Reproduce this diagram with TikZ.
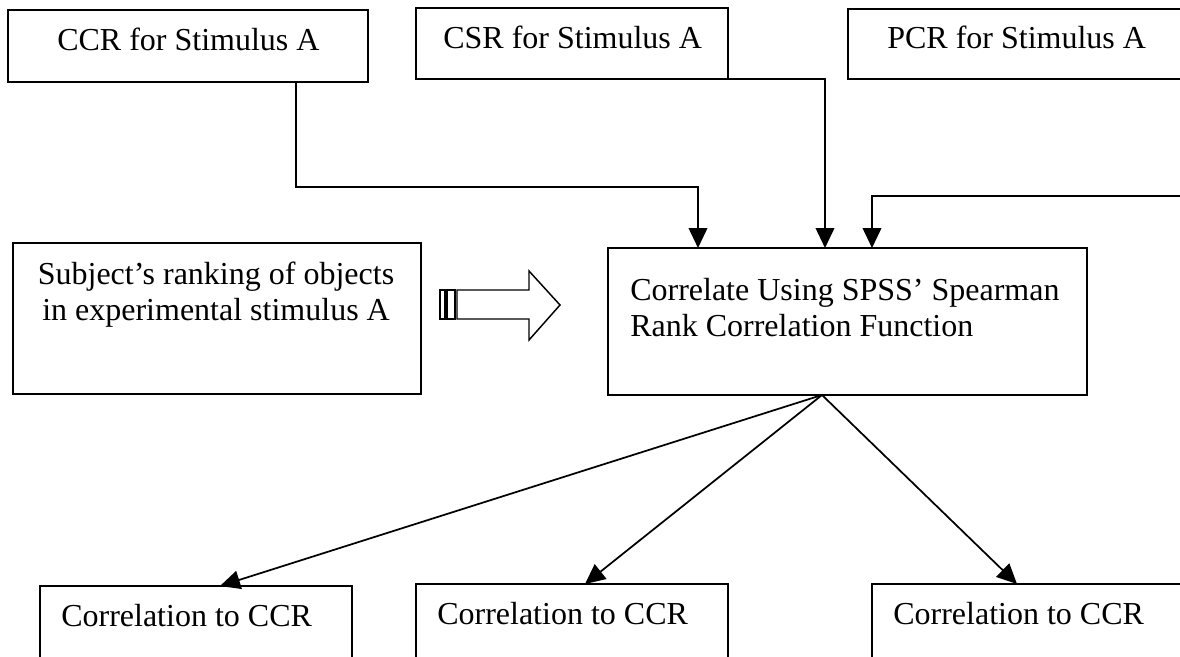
\documentclass[tikz,border=0pt]{standalone}
\usepackage{fontspec}
\setmainfont{Liberation Serif}
\usetikzlibrary{arrows.meta}
\tikzset{
  x=0.75pt, y=-0.75pt,
  box/.style={draw, line width=1.5pt, inner sep=0pt, outer sep=0pt, anchor=north west},
  lbl/.style={inner sep=0pt, font=\fontsize{24}{27}\selectfont},
  conn/.style={line width=1.3pt, -{Triangle[length=15pt,width=14pt]}},
  plain/.style={line width=1.1pt}
}
\begin{document}
\begin{tikzpicture}
\useasboundingbox (0,0) rectangle (1180,656);
\clip (0,0) rectangle (1180,656);

% source boxes along the top
\node[box, minimum width=270pt, minimum height=54pt] (ccr) at (8,10) {};
\node[lbl, anchor=base west] (ccrt) at (57,51) {CCR for Stimulus A};
\node[box, minimum width=234pt, minimum height=53.25pt] (csr) at (416,8) {};
\node[lbl, anchor=base west] (csrt) at (443,49) {CSR for Stimulus A};
\node[box, minimum width=264pt, minimum height=52.5pt] (pcr) at (848,9) {};
\node[lbl, anchor=base west] (pcrt) at (887,49) {PCR for Stimulus A};

% subject ranking box
\node[box, minimum width=306pt, minimum height=113.25pt] (subj) at (13,243) {};
\node[lbl, anchor=base] (subj1) at (216,284) {Subject’s ranking of objects};
\node[lbl, anchor=base] (subj2) at (216,320) {in experimental stimulus A};

% correlation step
\node[box, minimum width=359.25pt, minimum height=110.25pt] (main) at (608,248) {};
\node[lbl, anchor=base west] (main1) at (630,300) {Correlate Using SPSS’ Spearman};
\node[lbl, anchor=base west] (main2) at (630,336) {Rank Correlation Function};

% result boxes along the bottom
\node[box, minimum width=234pt, minimum height=80pt] (r1) at (40,586) {};
\node[lbl, anchor=base west] (r1t) at (61,626) {Correlation to CCR};
\node[box, minimum width=234pt, minimum height=80pt] (r2) at (416,584) {};
\node[lbl, anchor=base west] (r2t) at (437,624) {Correlation to CCR};
\node[box, minimum width=240pt, minimum height=80pt] (r3) at (872,584) {};
\node[lbl, anchor=base west] (r3t) at (893,624) {Correlation to CCR};

% routing points
\coordinate (k1) at (296,187);
\coordinate (k2) at (698,187);
\coordinate (k3) at (825,0);
\coordinate (k4) at (872,196);
\coordinate (pcrin) at (1190,196);
\coordinate (apex) at (822,395);
\coordinate (t1) at (220,0);
\coordinate (t2) at (585,0);
\coordinate (t3) at (1017,0);

% inputs into the correlation step
\draw[conn] (ccr.south -| k1) -- (k1) -- (k2) -- (k2 |- main.north);
\draw[conn] (csr.south east) -- (csr.south east -| k3) -- (k3 |- main.north);
\draw[conn] (pcrin) -- (k4) -- (k4 |- main.north);

% outputs
\draw[conn] (apex) -- (r1.north -| t1);
\draw[conn] (apex) -- (r2.north -| t2);
\draw[conn] (apex) -- (r3.north -| t3);

% striped hollow block arrow
\draw[plain] (440,290) rectangle (445,319);
\draw[plain] (447,290) rectangle (455,319);
\draw[plain] (457,290) -- (529,290) -- (529,271) -- (560,305)
  -- (529,340) -- (529,319) -- (457,319) -- cycle;
\end{tikzpicture}
\end{document}
